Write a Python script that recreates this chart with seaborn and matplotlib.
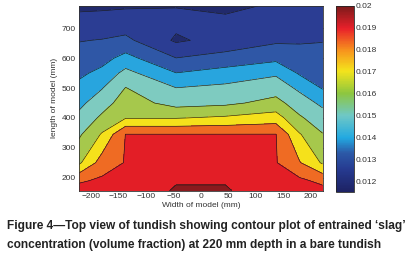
"""
Top view of tundish - contour plot of entrained slag concentration
Outputs: out.png
"""

import numpy as np
import matplotlib.pyplot as plt
import seaborn as sns
from matplotlib.colors import LinearSegmentedColormap, Normalize
from matplotlib.cm import ScalarMappable

# grid (mm)
width_mm = [-222, -180, -137, -45, 45, 137, 180, 222]
length_mm = [157, 190, 250, 345, 400, 450, 500, 550, 600, 660, 720, 775]

# slag volume fraction, one row per length_mm value
conc = [
    [0.01906, 0.01915, 0.01897, 0.01969, 0.01969, 0.01897, 0.01906, 0.01897],
    [0.01857, 0.01886, 0.01897, 0.01953, 0.01953, 0.01897, 0.01888, 0.01847],
    [0.01674, 0.01821, 0.01875, 0.01921, 0.01921, 0.01875, 0.01786, 0.01679],
    [0.01586, 0.01699, 0.01872, 0.01872, 0.01872, 0.01872, 0.01697, 0.01604],
    [0.01533, 0.01618, 0.01686, 0.01686, 0.01704, 0.01732, 0.01612, 0.01550],
    [0.01488, 0.01560, 0.01644, 0.01567, 0.01582, 0.01629, 0.01554, 0.01491],
    [0.01443, 0.01506, 0.01603, 0.01512, 0.01531, 0.01560, 0.01493, 0.01414],
    [0.01403, 0.01443, 0.01538, 0.01422, 0.01457, 0.01497, 0.01410, 0.01387],
    [0.01368, 0.01390, 0.01450, 0.01332, 0.01363, 0.01398, 0.01368, 0.01360],
    [0.01326, 0.01334, 0.01351, 0.01227, 0.01272, 0.01315, 0.01320, 0.01326],
    [0.01272, 0.01272, 0.01282, 0.01262, 0.01249, 0.01276, 0.01283, 0.01290],
    [0.01222, 0.01227, 0.01231, 0.01237, 0.01231, 0.01245, 0.01249, 0.01254],
]

levels = [0.0115, 0.0124, 0.0133, 0.0142, 0.0151, 0.0160,
          0.0169, 0.0178, 0.0187, 0.0196, 0.0200]
band_colors = ["#212a6c", "#2b3d93", "#2f57a6", "#28a5de", "#7ecbc0",
               "#a6c84c", "#f5e11b", "#ef6b23", "#e31e26", "#8a1a1e"]

cbar_ticks = [0.012, 0.013, 0.014, 0.015, 0.016, 0.017, 0.018, 0.019, 0.02]
cbar_labels = ["0.012", "0.013", "0.014", "0.015", "0.016",
               "0.017", "0.018", "0.019", "0.02"]
x_ticks = [-200, -150, -100, -50, 0, 50, 100, 150, 200]
y_ticks = [200, 300, 400, 500, 600, 700]

caption = ["Figure 4\u2014Top view of tundish showing contour plot of entrained \u2018slag\u2019",
           "concentration (volume fraction) at 220 mm depth in a bare tundish"]

sns.set_style("white")
plt.rcParams['font.family'] = ['Liberation Sans', 'DejaVu Sans']

# printed jet colormap for the colour bar
jet_print = LinearSegmentedColormap.from_list("jet_print", [
    (0.0, "#1d2263"), (0.12, "#263a90"), (0.21, "#2c5aa8"), (0.29, "#22a9e1"),
    (0.41, "#6fc8c6"), (0.53, "#8dc63f"), (0.65, "#f4e41c"), (0.76, "#f7941d"),
    (0.88, "#e8202a"), (1.0, "#7b1a1a")])

fig = plt.figure(figsize=(4.2, 2.67), dpi=100)
ax = fig.add_axes([0.188, 0.2865, 0.580, 0.691])

X, Y = np.meshgrid(width_mm, length_mm)
Z = np.array(conc)
ax.contourf(X, Y, Z, levels=levels, colors=band_colors)
ax.contour(X, Y, Z, levels=levels[1:-1], colors="#1a1a1a", linewidths=0.45)

ax.set_xlim(width_mm[0], width_mm[-1])
ax.set_ylim(length_mm[0], length_mm[-1])
ax.set_xticks(x_ticks)
ax.set_yticks(y_ticks)
ax.tick_params(direction="in", length=2, width=0.5, labelsize=6,
               labelcolor="#333333", pad=2, top=True, right=True)
for s in ax.spines.values():
    s.set_linewidth(0.6)
    s.set_color("#333333")
ax.set_xlabel("Width of model (mm)", fontsize=6, color="#333333", labelpad=1)
ax.set_ylabel("length of model (mm)", fontsize=6, color="#333333", labelpad=3)

cax = fig.add_axes([0.8, 0.281, 0.043, 0.697])
sm = ScalarMappable(norm=Normalize(0.0115, 0.02), cmap=jet_print)
cb = fig.colorbar(sm, cax=cax, ticks=cbar_ticks)
cb.ax.set_yticklabels(cbar_labels)
cb.ax.tick_params(direction="in", length=2, width=0.5, labelsize=6,
                  labelcolor="#333333", pad=1, left=True)
cb.outline.set_linewidth(0.6)

fig.text(0.017, 1 - 226 / 267, caption[0], fontsize=8.6, fontweight="bold",
         va="center", ha="left", color="#222222")
fig.text(0.017, 1 - 245 / 267, caption[1], fontsize=8.6, fontweight="bold",
         va="center", ha="left", color="#222222")

plt.savefig("out.png", dpi=100)
plt.close()
